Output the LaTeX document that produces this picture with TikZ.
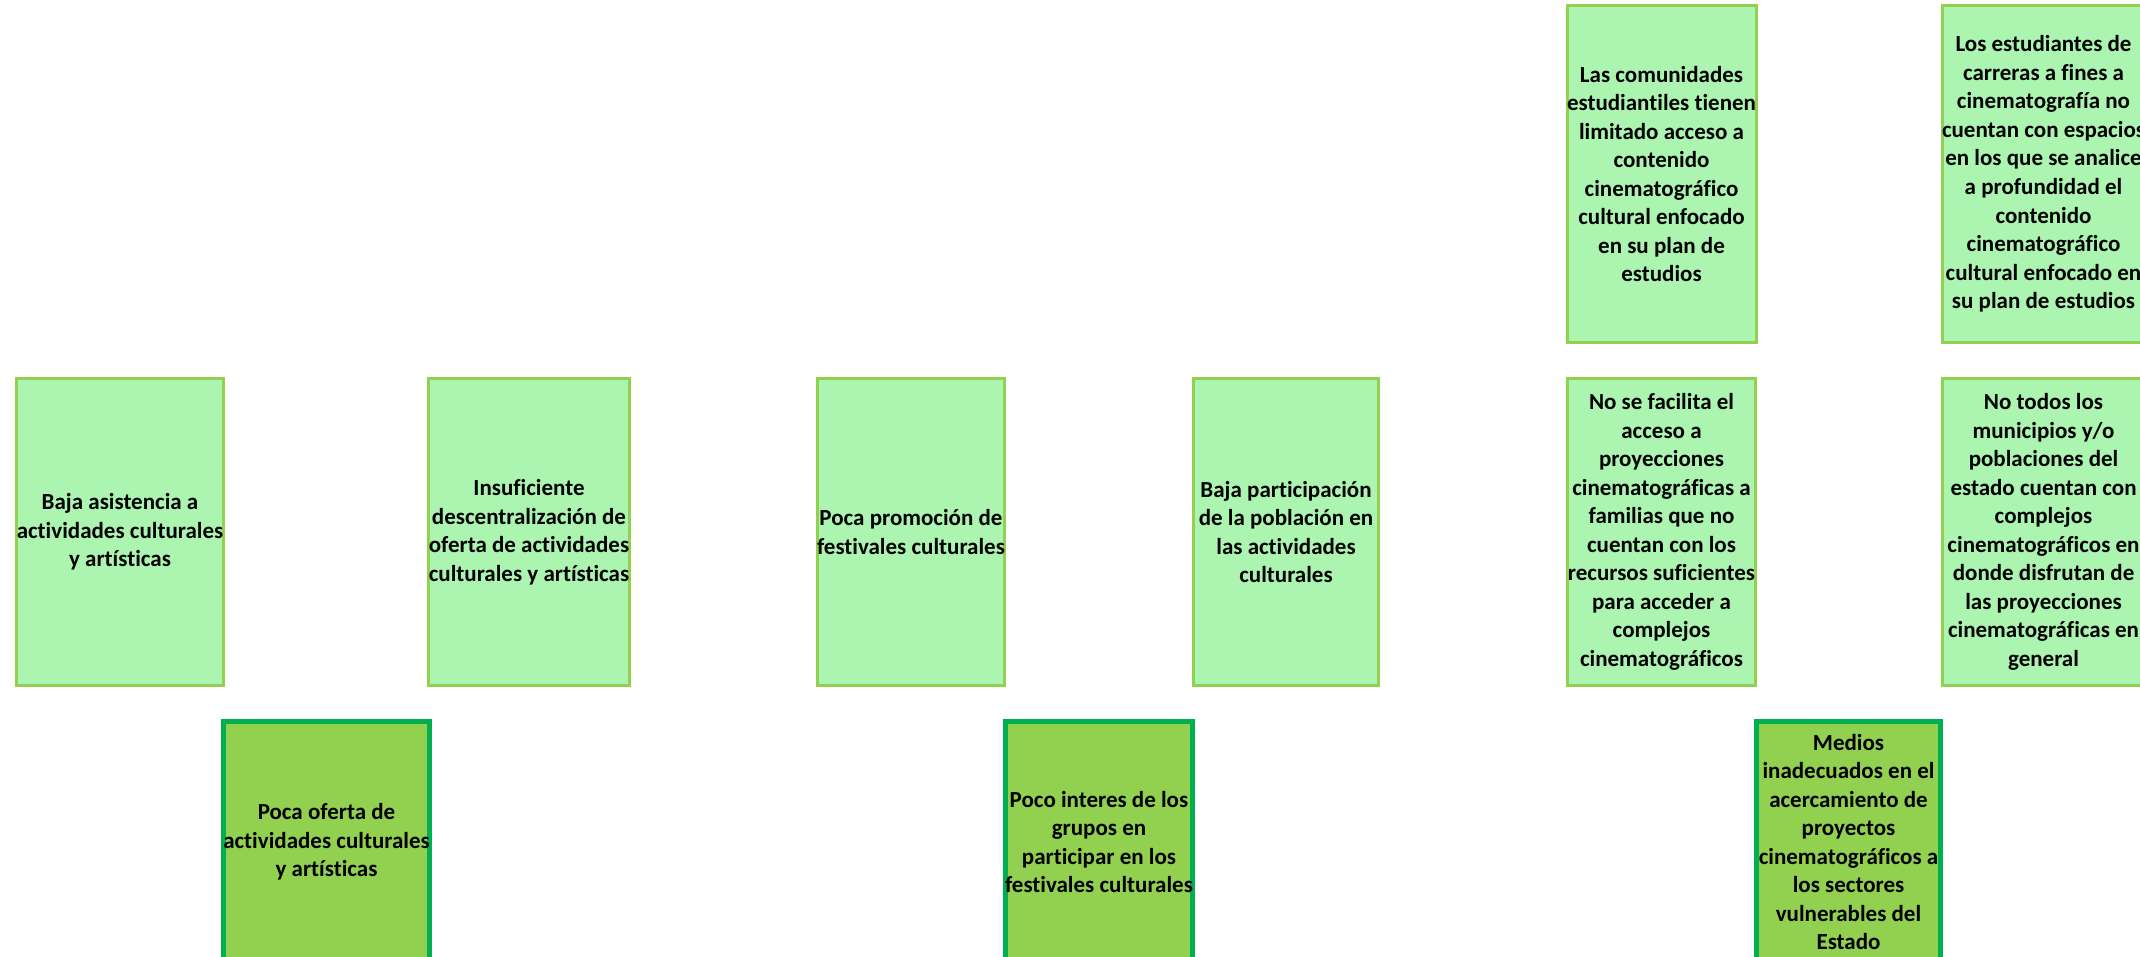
\documentclass[tikz,border=0pt]{standalone}
\usepackage{fontspec}
\setmainfont{Carlito}[Ligatures={NoCommon}]
\definecolor{topfill}{HTML}{ABF5B1}
\definecolor{topdraw}{HTML}{92D050}
\definecolor{botfill}{HTML}{92D050}
\definecolor{botdraw}{HTML}{00B050}
\tikzset{
  topbox/.style={draw=topdraw, fill=topfill, line width=2.25pt, align=center, inner sep=0pt,
    font=\fontsize{17.25pt}{21.4pt}\selectfont\bfseries},
  botbox/.style={draw=botdraw, fill=botfill, line width=3.75pt, align=center, inner sep=0pt,
    font=\fontsize{17.25pt}{21.4pt}\selectfont\bfseries},
}
\begin{document}
\begin{tikzpicture}[x=0.75pt,y=-0.75pt]
\useasboundingbox (0,0) rectangle (2140,956);
\clip (0,0) rectangle (2140,956);
% top row
\node[topbox, minimum width=205*0.75pt, minimum height=307*0.75pt] (b1) at (120,532)
  {Baja asistencia a\\actividades culturales\\y artísticas};
\node[topbox, minimum width=199*0.75pt, minimum height=307*0.75pt] (b2) at (529,532)
  {Insuficiente\\descentralización de\\oferta de actividades\\culturales y artísticas};
\node[topbox, minimum width=187*0.75pt, minimum height=307*0.75pt] (b3) at (911,532)
  {Poca promoción de\\festivales culturales};
\node[topbox, minimum width=185*0.75pt, minimum height=307*0.75pt] (b4) at (1286,532)
  {Baja participación\\de la población en\\las actividades\\culturales};
\node[topbox, minimum width=188*0.75pt, minimum height=307*0.75pt] (b5) at (1661.5,532)
  {No se facilita el\\acceso a\\proyecciones\\cinematográficas a\\familias que no\\cuentan con los\\recursos suficientes\\para acceder a\\complejos\\cinematográficos};
\node[topbox, minimum width=202*0.75pt, minimum height=307*0.75pt] (b6) at (2043.5,532)
  {No todos los\\municipios y/o\\poblaciones del\\estado cuentan con\\complejos\\cinematográficos en\\donde disfrutan de\\las proyecciones\\cinematográficas en\\general};
% upper boxes
\node[topbox, minimum width=188*0.75pt, minimum height=337*0.75pt] (b7) at (1661.5,174)
  {Las comunidades\\estudiantiles tienen\\limitado acceso a\\contenido\\cinematográfico\\cultural enfocado\\en su plan de\\estudios};
\node[topbox, minimum width=202*0.75pt, minimum height=337*0.75pt] (b8) at (2043.5,174)
  {Los estudiantes de\\carreras a fines a\\cinematografía no\\cuentan con espacios\\en los que se analice\\a profundidad el\\contenido\\cinematográfico\\cultural enfocado en\\su plan de estudios};
% bottom boxes
\node[botbox, minimum width=204*0.75pt, minimum height=241*0.75pt] (b9) at (326.5,842)
  {Poca oferta de\\actividades culturales\\y artísticas};
\node[botbox, minimum width=185*0.75pt, minimum height=241*0.75pt] (b10) at (1099,842)
  {Poco interes de los\\grupos en\\participar en los\\festivales culturales};
\node[botbox, minimum width=184*0.75pt, minimum height=241*0.75pt] (b11) at (1848.5,842)
  {Medios\\inadecuados en el\\acercamiento de\\proyectos\\cinematográficos a\\los sectores\\vulnerables del\\Estado};
\end{tikzpicture}
\end{document}
